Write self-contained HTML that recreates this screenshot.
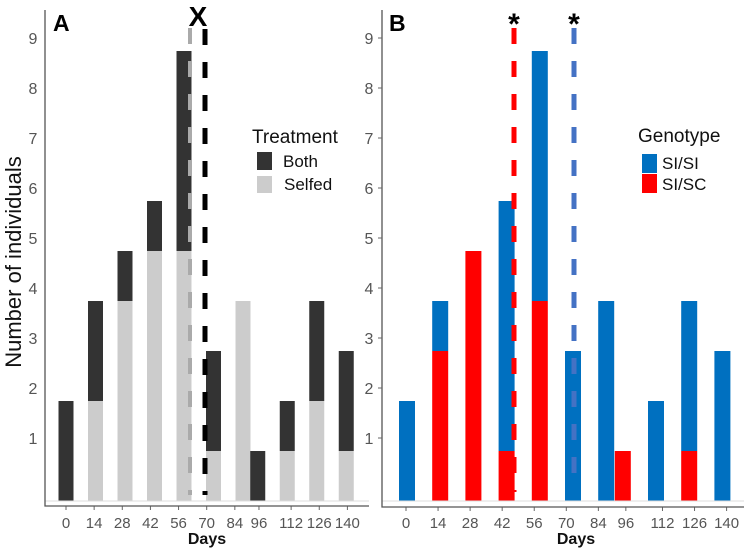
<!DOCTYPE html>
<html><head><meta charset="utf-8"><style>
html,body{margin:0;padding:0;background:#fff;}
svg{display:block;font-family:"Liberation Sans",sans-serif;}
</style></head><body>
<svg id="c" width="749" height="550" viewBox="0 0 749 550"></svg>
<script>
const days = [0,14,28,42,56,70,84,96,112,126,140];
const slots = [0,1,2,3,4,5,6,6.5,7.5,8.5,9.5];
const aSelfed = [0,2,4,5,5,1,4,0,1,2,1];
const aBoth   = [2,2,1,1,4,2,0,1,1,2,2];
const bSC     = [0,3,5,1,4,0,0,1,0,1,0];
const bSI     = [2,1,0,5,5,3,4,0,2,3,3];
const yTicks = [1,2,3,4,5,6,7,8,9];
const NS="http://www.w3.org/2000/svg";
const svg=document.getElementById('c');
function mk(tag,attrs,parent){const e=document.createElementNS(NS,tag);for(const k in attrs)e.setAttribute(k,attrs[k]);(parent||svg).appendChild(e);return e;}
function txt(s,attrs,parent){const e=mk('text',attrs,parent);e.textContent=s;return e;}

const unit=50, base=501;
function yv(v){return base-v*unit;}
function tickY(k){return 438-(k-1)*50;}

function panel(o){
  const g=mk('g',{});
  
  
  days.forEach((d,i)=>{
    const cx=o.x0+slots[i]*o.step;
    const lo=o.lower[i], hi=o.upper[i];
    if(lo>0){const r=mk('rect',{x:cx-o.bw/2,y:yv(lo),width:o.bw,height:lo*unit,fill:o.cLo},g);
      
      }
    if(hi>0){const r=mk('rect',{x:cx-o.bw/2,y:yv(lo+hi),width:o.bw,height:hi*unit,fill:o.cHi},g);
      
      }
    const tx=o.t0+d*o.tpd;
    const tl=txt(String(d),{x:tx,y:528,'font-size':15,fill:'#555','text-anchor':'middle'},g);
    
    
    mk('line',{x1:tx,x2:tx,y1:o.axY,y2:o.axY+4,stroke:'#666'},g);
  });
  mk('line',{x1:o.axL,x2:o.axR,y1:base,y2:base,stroke:'#ddd','stroke-width':1},g);
  const ax=mk('path',{d:`M${o.axL} 10 V${o.axY} H${o.axR}`,fill:'none',stroke:'#555','stroke-width':1.3},g);
  
  
  yTicks.forEach(k=>{
    const t=txt(String(k),{x:o.labX,y:tickY(k)+6,'font-size':16,fill:'#555','text-anchor':'middle'},g);
    
    
    if(o.ticks) mk('line',{x1:o.axL-4,x2:o.axL,y1:tickY(k),y2:tickY(k),stroke:'#666'},g);
  });
  const dl=txt('Days',{x:o.daysX,y:544,'font-size':16,'font-weight':'bold',fill:'#111','text-anchor':'middle'},g);
  
  
  return g;
}

panel({name:'panel-a',x0:66,step:29.5,bw:15,t0:66,tpd:2.01,lower:aSelfed,upper:aBoth,cLo:'#cccccc',cHi:'#333333',lowName:'selfed',hiName:'both',axL:45,axR:369,axY:506,labX:33,ticks:false,daysX:207});
panel({name:'panel-b',x0:407,step:33.2,bw:16,t0:406,tpd:2.29,lower:bSC,upper:bSI,cLo:'#ff0000',cHi:'#0070c0',lowName:'si-sc',hiName:'si-si',axL:382,axR:744,axY:507,labX:369,ticks:true,daysX:576});

function dash(x,y1,y2,color,w,name){const l=mk('line',{x1:x,x2:x,y1:y1,y2:y2,stroke:color,'stroke-width':w,'stroke-dasharray':'16 17'});
  }
dash(190,28,495,'#aaaaaa',4,'selfed-mean-line');
dash(205,29,495,'#000000',5,'both-mean-line');
dash(514,28,492,'#ff0000',5,'si-sc-mean-line');
dash(574,28,484,'#4472c4',5,'si-si-mean-line');

let t;
t=txt('X',{x:198,y:26,'font-size':28,'font-weight':'bold','text-anchor':'middle',fill:'#000'});

t=txt('*',{x:514,y:34,'font-size':30,'font-weight':'bold','text-anchor':'middle',fill:'#000'});

t=txt('*',{x:574,y:34,'font-size':30,'font-weight':'bold','text-anchor':'middle',fill:'#000'});

t=txt('A',{x:53,y:31,'font-size':23,'font-weight':'bold',fill:'#000'});

t=txt('B',{x:389,y:31,'font-size':23,'font-weight':'bold',fill:'#000'});

t=txt('Number of individuals',{x:0,y:0,'font-size':22,fill:'#111','text-anchor':'middle',transform:'translate(21,262) rotate(-90)'});


t=txt('Treatment',{x:252,y:143,'font-size':19,fill:'#111'});

let r=mk('rect',{x:257,y:152,width:15,height:18,fill:'#333'});

t=txt('Both',{x:283,y:167,'font-size':17,fill:'#111'});

r=mk('rect',{x:257,y:176,width:15,height:17,fill:'#ccc'});

t=txt('Selfed',{x:284,y:190,'font-size':17,fill:'#111'});


t=txt('Genotype',{x:638,y:142,'font-size':19,fill:'#111'});

r=mk('rect',{x:642,y:154,width:15,height:19,fill:'#0070c0'});

t=txt('SI/SI',{x:662,y:169,'font-size':17,fill:'#111'});

r=mk('rect',{x:642,y:174,width:15,height:19,fill:'#ff0000'});

t=txt('SI/SC',{x:662,y:190,'font-size':17,fill:'#111'});

</script>
</body></html>
